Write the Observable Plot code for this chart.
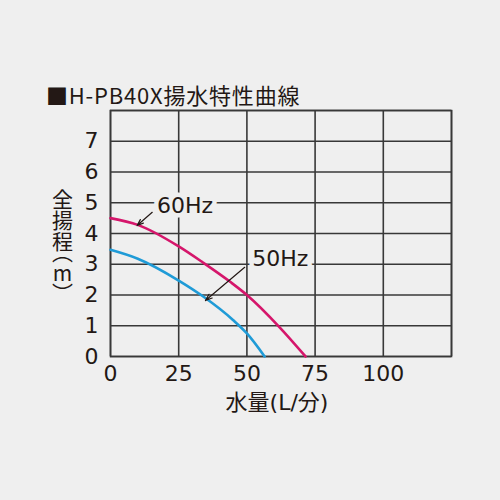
<!DOCTYPE html>
<html><head><meta charset="utf-8">
<script src="https://cdn.jsdelivr.net/npm/d3@7"></script>
<script src="https://cdn.jsdelivr.net/npm/@observablehq/plot@0.6"></script>
<style>
html,body{margin:0;padding:0;background:#efefef;}
body{width:500px;height:500px;overflow:hidden;font-family:"DejaVu Sans","Noto Sans CJK JP",sans-serif;color:#231815;}
#title{height:100px;box-sizing:border-box;padding:82px 0 0 46px;font-family:"Noto Sans CJK JP",sans-serif;font-size:22px;line-height:24px;letter-spacing:0.8px;white-space:nowrap;}
#chart svg{display:block;}
</style></head><body>
<div id="title">■H-PB40X揚水特性曲線</div>
<div id="chart"></div>
<script>
// Tick values
const xTicks = [0, 25, 50, 75, 100];
const xGrid = [0, 25, 50, 75, 100, 125];
const yTicks = [0, 1, 2, 3, 4, 5, 6, 7];
const yGrid = [0, 1, 2, 3, 4, 5, 6, 7, 8];
// 60Hz curve (flow L/min, head m)
const flow60 = [0, 10, 25, 34, 44, 50, 62, 71.5];
const head60 = [4.5, 4.28, 3.58, 3.05, 2.42, 2.0, 0.95, 0];
// 50Hz curve
const flow50 = [0, 10, 25, 34, 45, 50, 56.5];
const head50 = [3.47, 3.18, 2.47, 1.95, 1.18, 0.75, 0];
// Callout labels and their arrows
const calloutText = ["60Hz", "50Hz"];
const calloutX = [27.3, 62.2];
const calloutY = [4.91, 3.18];
const arrowFromX = [15.3, 49.2];
const arrowFromY = [4.69, 2.90];
const arrowToX = [9.75, 34.8];
const arrowToY = [4.26, 1.82];
const xLabel = "水量(L/分)";
const yLabel = "全揚程（m）";

const bg = "#efefef", ink = "#231815", gridC = "#383838";
const c60 = "#d5166b", c50 = "#1f9bd7";
const font = '"DejaVu Sans", "Noto Sans CJK JP", sans-serif';

const s60 = flow60.map((f, i) => ({flow: f, head: head60[i]}));
const s50 = flow50.map((f, i) => ({flow: f, head: head50[i]}));
const idx = calloutText.map((_, i) => i);

const chart = Plot.plot({
  width: 500, height: 400,
  marginTop: 10, marginLeft: 110, marginRight: 49, marginBottom: 144,
  style: {background: bg, fontFamily: font, fontSize: "22px", color: ink},
  x: {domain: [0, 125]},
  y: {domain: [0, 8]},
  marks: [
    Plot.gridX(xGrid, {stroke: gridC, strokeOpacity: 1, strokeWidth: 1.6}),
    Plot.gridY(yGrid, {stroke: gridC, strokeOpacity: 1, strokeWidth: 1.6}),
    Plot.frame({stroke: gridC, strokeWidth: 1.6}),
    Plot.axisX(xTicks, {tickSize: 0, tickPadding: 9, fontSize: 22, fill: ink, label: null}),
    Plot.axisY(yTicks, {tickSize: 0, tickPadding: 12, fontSize: 22, fill: ink, label: null}),
    Plot.line(s50, {x: "flow", y: "head", stroke: c50, strokeWidth: 2.6, curve: "monotone-x"}),
    Plot.line(s60, {x: "flow", y: "head", stroke: c60, strokeWidth: 2.6, curve: "monotone-x"}),
    Plot.text(idx, {x: i => calloutX[i], y: i => calloutY[i], text: i => calloutText[i], fill: ink, stroke: bg, strokeWidth: 9, fontSize: 22}),
    Plot.arrow(idx, {x1: i => arrowFromX[i], y1: i => arrowFromY[i], x2: i => arrowToX[i], y2: i => arrowToY[i], stroke: ink, strokeWidth: 1.2, headLength: 9, headAngle: 40}),
    Plot.text([xLabel], {text: d => d, frameAnchor: "bottom", dy: 53, dx: -4, fontSize: 22, fill: ink}),
    Plot.text([yLabel], {text: d => d, frameAnchor: "left", dx: -48, dy: 1, fontSize: 21, fill: ink, fontFamily: '"Noto Sans CJK JP", sans-serif'})
  ]
});
document.getElementById("chart").appendChild(chart);
d3.select(chart).selectAll("text")
  .filter(function() { return this.textContent === yLabel; })
  .attr("dy", null)
  .attr("text-anchor", "middle")
  .attr("writing-mode", "vertical-rl")
  .style("writing-mode", "vertical-rl")
  .style("text-orientation", "upright")
  .style("font-feature-settings", "'vpal'");
</script>
</body></html>
